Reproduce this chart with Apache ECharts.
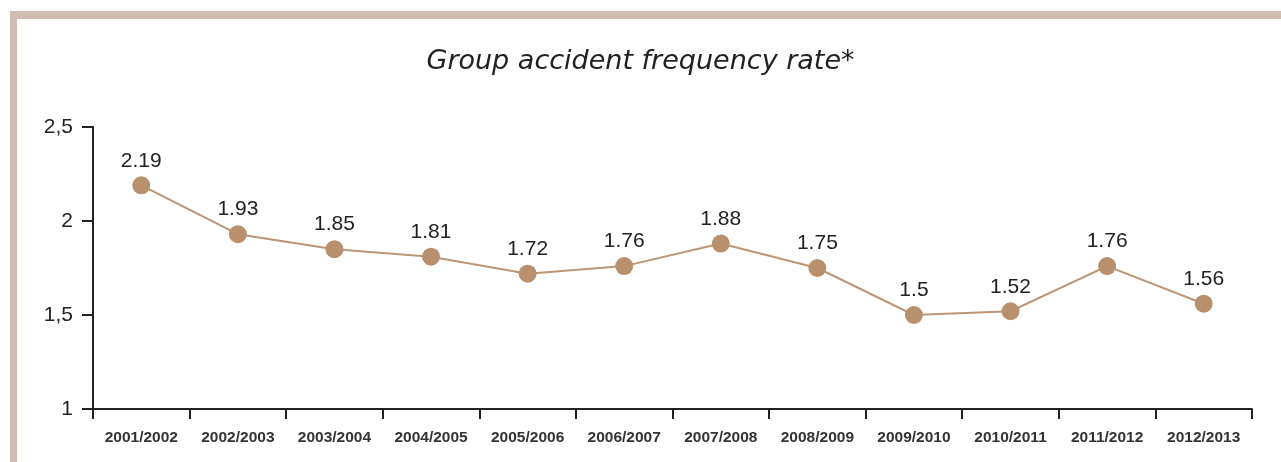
<!DOCTYPE html>
<html>
<head>
<meta charset="utf-8">
<script src="https://cdn.jsdelivr.net/npm/echarts@6/dist/echarts.min.js"></script>
<style>
    html, body { margin: 0; padding: 0; background: #fff; }
    #frame {
        position: absolute; left: 10px; top: 11px; width: 1271px; height: 451px;
        border-top: 8px solid #d1bcb4; border-left: 7px solid #d1bcb4;
        box-sizing: border-box;
    }
    #chart { position: absolute; left: 0; top: 0; width: 1281px; height: 462px; }
</style>
</head>
<body>
<div id="frame"></div>
<div id="chart"></div>
<script>
    // 年度
    var years = ['2001/2002', '2002/2003', '2003/2004', '2004/2005', '2005/2006', '2006/2007',
        '2007/2008', '2008/2009', '2009/2010', '2010/2011', '2011/2012', '2012/2013'];
    // 事故频率
    var rates = [2.19, 1.93, 1.85, 1.81, 1.72, 1.76, 1.88, 1.75, 1.5, 1.52, 1.76, 1.56];
    var yTicks = [1, 1.5, 2, 2.5];

    var mychart = echarts.init(document.getElementById('chart'));
    var option = {
        animation: false,
        title: {
            text: 'Group accident frequency rate*',
            left: 'center',
            top: 43,
            textStyle: {
                fontFamily: 'DejaVu Sans',
                fontStyle: 'italic',
                fontWeight: 'normal',
                fontSize: 27,
                color: '#222'
            }
        },
        grid: { left: 93, right: 29, top: 127, bottom: 53 },
        xAxis: {
            type: 'category',
            data: years,
            boundaryGap: true,
            axisLine: { lineStyle: { color: '#222', width: 2 } },
            axisTick: { show: true, inside: false, length: 10, lineStyle: { color: '#222', width: 2 } },
            axisLabel: {
                fontFamily: 'Liberation Sans',
                fontSize: 15.5,
                fontWeight: 'bold',
                color: '#333',
                margin: 21
            }
        },
        yAxis: {
            type: 'value',
            min: yTicks[0],
            max: yTicks[yTicks.length - 1],
            interval: 0.5,
            axisLine: { show: true, lineStyle: { color: '#222', width: 2 } },
            axisTick: { show: true, length: 11, lineStyle: { color: '#222', width: 2 } },
            splitLine: { show: false },
            axisLabel: {
                fontFamily: 'Liberation Sans',
                fontSize: 21,
                color: '#222',
                margin: 20,
                formatter: function (v) { return String(v).replace('.', ','); }
            }
        },
        series: [{
            type: 'line',
            data: rates,
            symbol: 'circle',
            symbolSize: 18,
            lineStyle: { color: '#bd9574', width: 2 },
            itemStyle: { color: '#b8906e' },
            label: {
                show: true,
                position: 'top',
                distance: 5,
                fontFamily: 'Liberation Sans',
                fontSize: 21,
                color: '#222'
            }
        }]
    };
    mychart.setOption(option);
</script>
</body>
</html>
